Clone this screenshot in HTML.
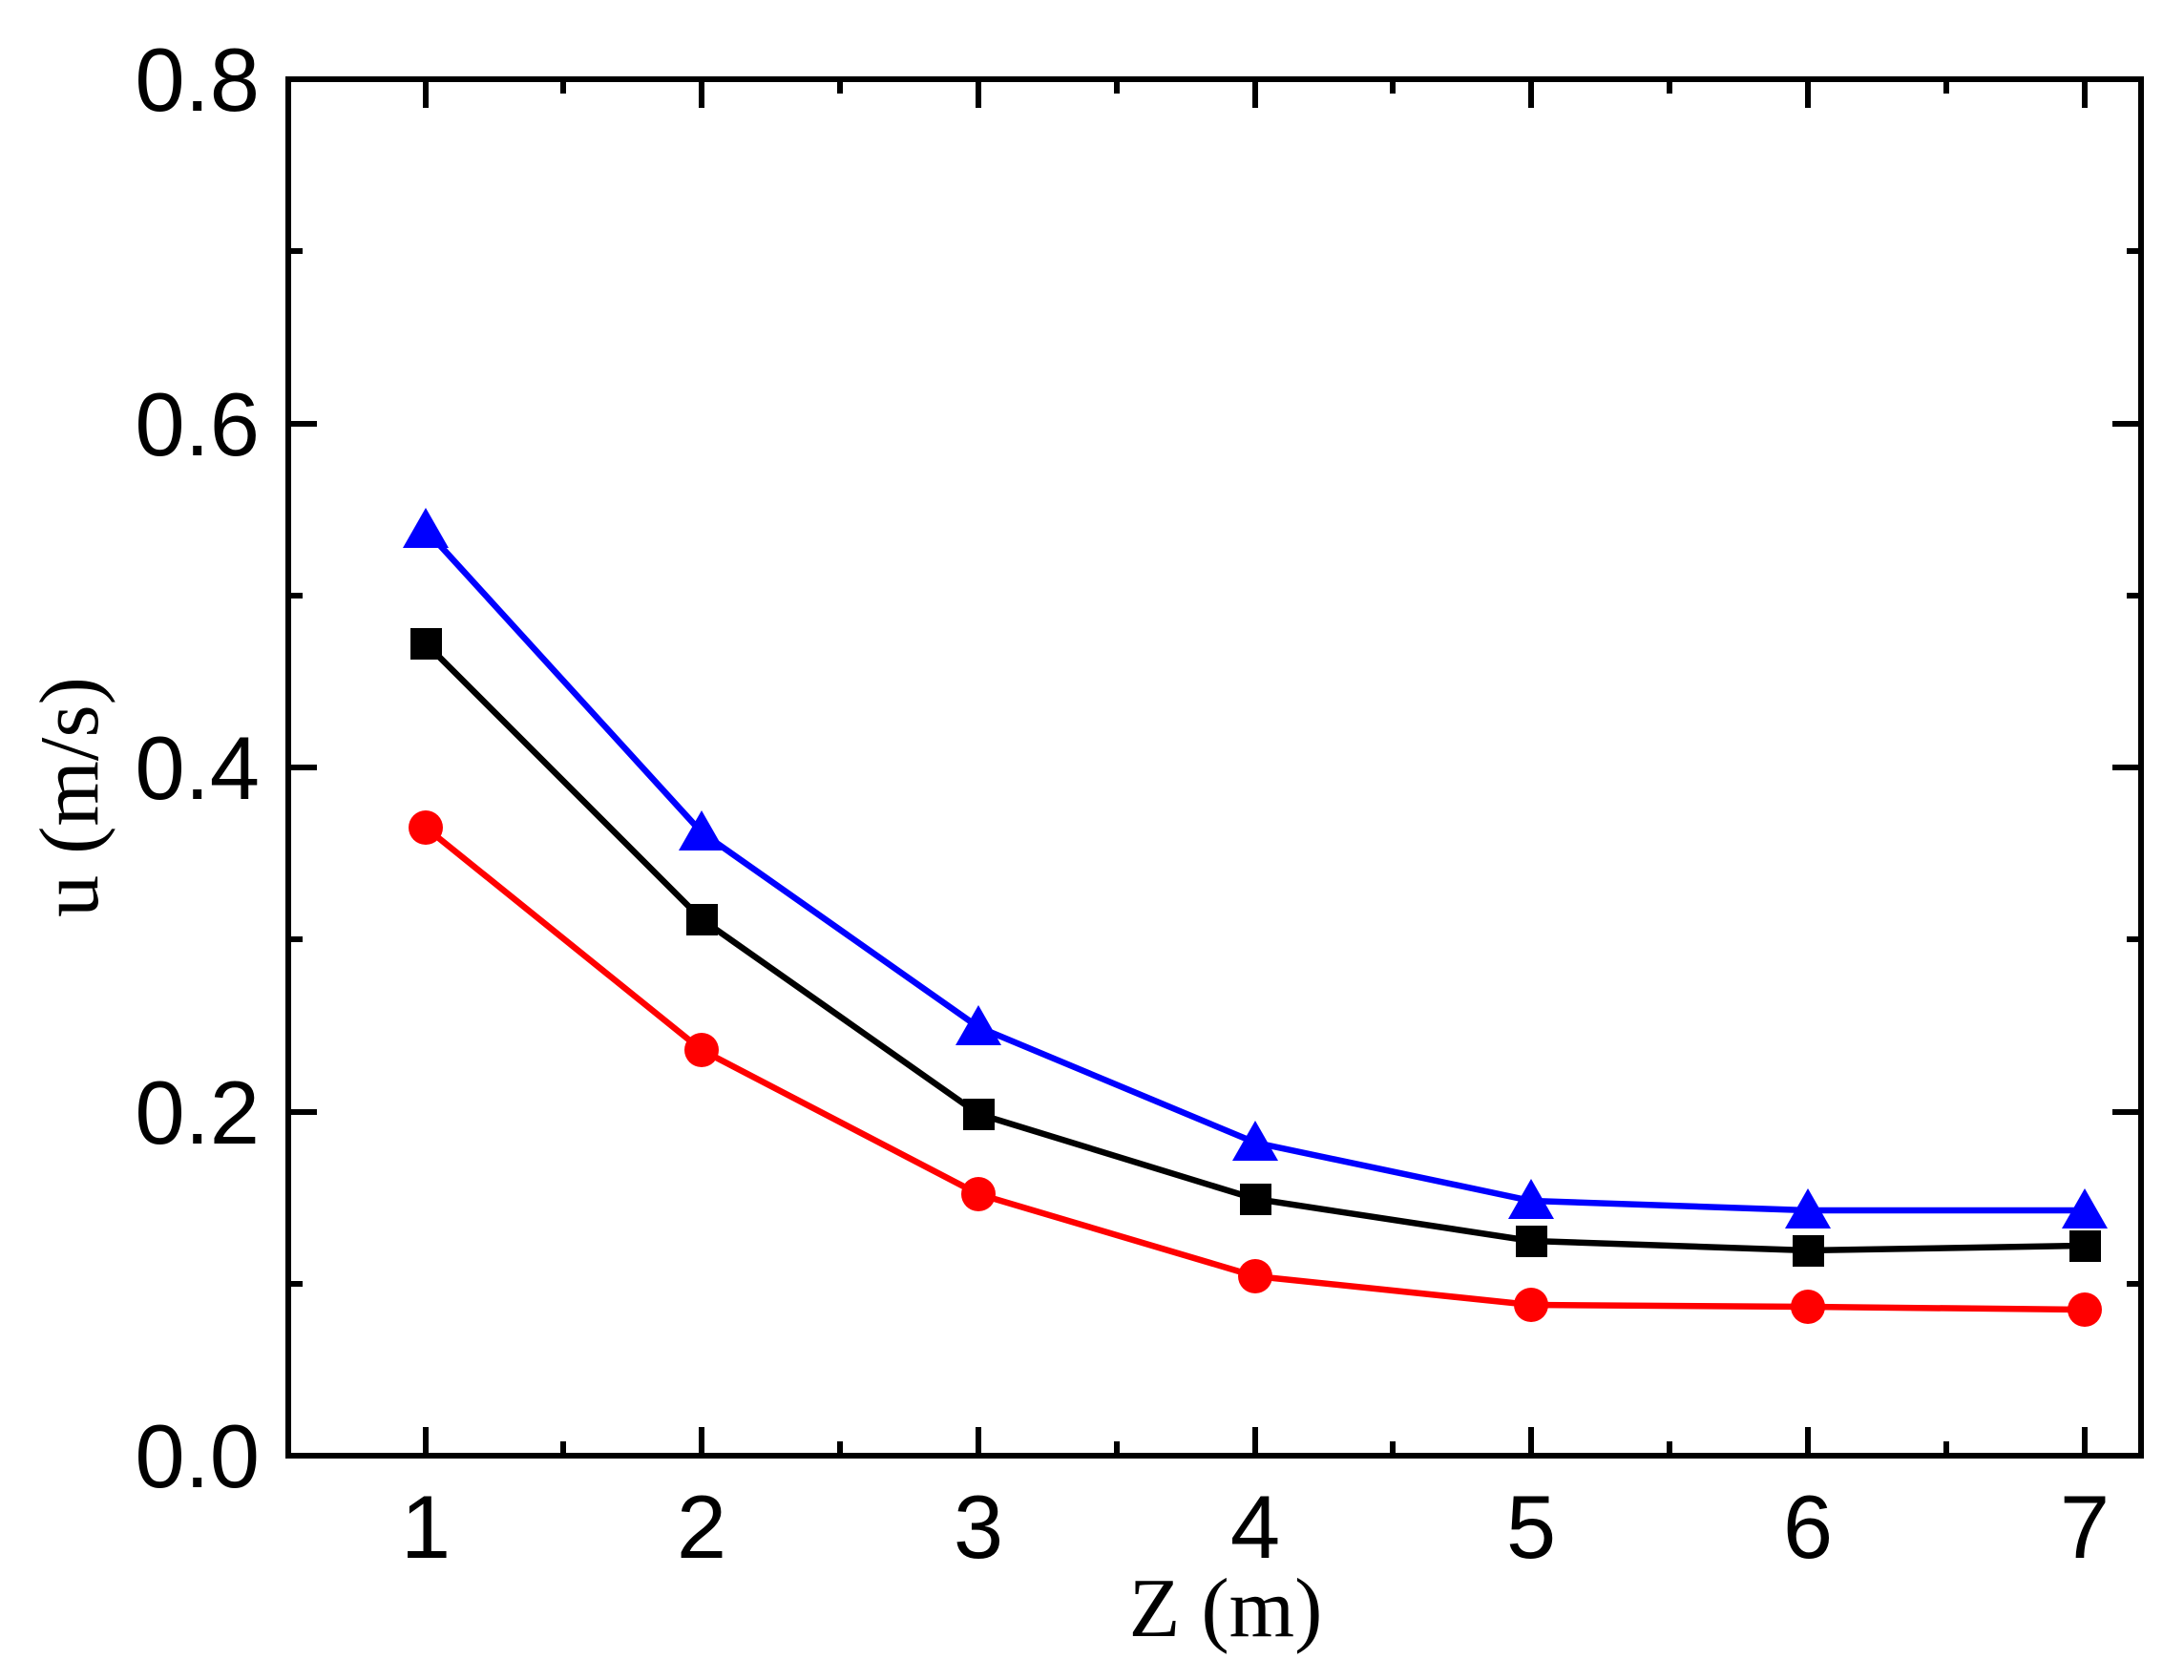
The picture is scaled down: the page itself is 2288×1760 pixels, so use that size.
<!DOCTYPE html>
<html><head><meta charset="utf-8"><style>html,body{margin:0;padding:0;background:#fff}svg{display:block}</style></head>
<body>
<svg width="2288" height="1760" viewBox="0 0 2288 1760" xmlns="http://www.w3.org/2000/svg">
<rect width="2288" height="1760" fill="#fff"/>
<g stroke="#000" stroke-width="6" fill="none">
<rect x="302" y="83" width="1941" height="1442"/>
<path d="M446,1525v-30M735,1525v-30M1025,1525v-30M1315,1525v-30M1604,1525v-30M1894,1525v-30M2184,1525v-30
M446,83v30M735,83v30M1025,83v30M1315,83v30M1604,83v30M1894,83v30M2184,83v30
M590,1525v-15M880,1525v-15M1170,1525v-15M1459,1525v-15M1749,1525v-15M2039,1525v-15
M590,83v15M880,83v15M1170,83v15M1459,83v15M1749,83v15M2039,83v15"/>
<path d="M302,1165h30M302,804h30M302,444h30
M2243,1165h-30M2243,804h-30M2243,444h-30
M302,1345h15M302,984h15M302,624h15M302,263h15
M2243,1345h-15M2243,984h-15M2243,624h-15M2243,263h-15"/>
</g>
<g font-family="Liberation Sans, Arial, sans-serif" font-size="94" fill="#000" text-anchor="end">
<text x="272" y="1558">0.0</text>
<text x="272" y="1198">0.2</text>
<text x="272" y="837">0.4</text>
<text x="272" y="477">0.6</text>
<text x="272" y="116">0.8</text>
</g>
<g font-family="Liberation Sans, Arial, sans-serif" font-size="94" fill="#000" text-anchor="middle">
<text x="446" y="1632">1</text>
<text x="735" y="1632">2</text>
<text x="1025" y="1632">3</text>
<text x="1315" y="1632">4</text>
<text x="1604" y="1632">5</text>
<text x="1894" y="1632">6</text>
<text x="2184" y="1632">7</text>
</g>
<text x="1284" y="1714" font-family="Liberation Serif, Times New Roman, serif" font-size="88" text-anchor="middle">Z (m)</text>
<text transform="translate(102,835) rotate(-90)" font-family="Liberation Serif, Times New Roman, serif" font-size="88" text-anchor="middle">u (m/s)</text>
<polyline fill="none" stroke="#0000ff" stroke-width="6.5" points="446,555 735,872 1025,1076 1315,1197 1604,1258 1894,1268 2184,1268"/>
<g fill="#0000ff">
<path d="M446,532l-24,42h48z"/><path d="M735,849l-24,42h48z"/><path d="M1025,1053l-24,42h48z"/><path d="M1315,1174l-24,42h48z"/><path d="M1604,1235l-24,42h48z"/><path d="M1894,1245l-24,42h48z"/><path d="M2184,1245l-24,42h48z"/>
</g>
<polyline fill="none" stroke="#000" stroke-width="6.5" points="446,674 735,963 1025,1167 1315,1256 1604,1300 1894,1310 2184,1305"/>
<g fill="#000">
<rect x="430" y="658" width="33" height="33"/><rect x="719" y="947" width="33" height="33"/><rect x="1009" y="1151" width="33" height="33"/><rect x="1299" y="1240" width="33" height="33"/><rect x="1588" y="1284" width="33" height="33"/><rect x="1878" y="1294" width="33" height="33"/><rect x="2168" y="1289" width="33" height="33"/>
</g>
<polyline fill="none" stroke="#ff0000" stroke-width="6.5" points="446,867 735,1100 1025,1251 1315,1337 1604,1367 1894,1369 2184,1372"/>
<g fill="#ff0000">
<circle cx="446" cy="867" r="18"/><circle cx="735" cy="1100" r="18"/><circle cx="1025" cy="1251" r="18"/><circle cx="1315" cy="1337" r="18"/><circle cx="1604" cy="1367" r="18"/><circle cx="1894" cy="1369" r="18"/><circle cx="2184" cy="1372" r="18"/>
</g>
</svg>
</body></html>
